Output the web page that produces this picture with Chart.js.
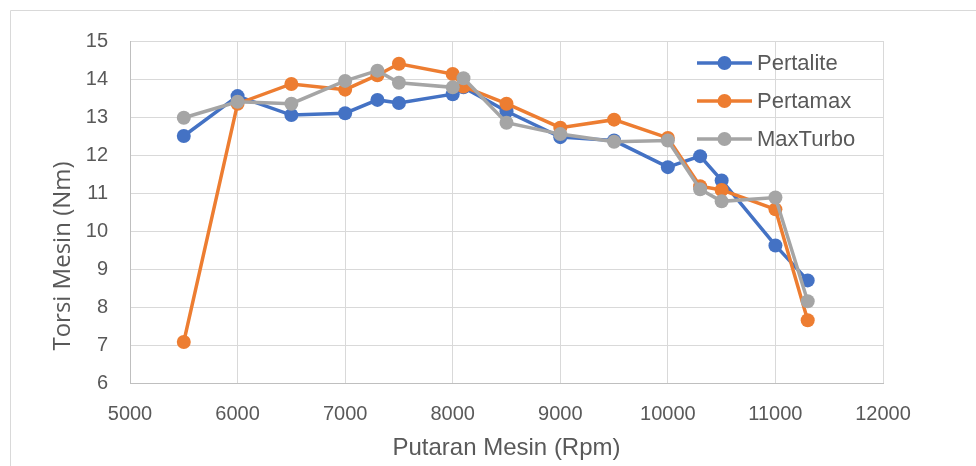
<!DOCTYPE html>
<html>
<head>
<meta charset="utf-8">
<script src="https://cdn.jsdelivr.net/npm/chart.js@4"></script>
<style>
  html, body { margin: 0; padding: 0; background: #fff; }
  #wrap { width: 976px; height: 466px; position: relative; }
</style>
</head>
<body>
<div id="wrap"><canvas id="torqueChart" width="976" height="466"></canvas></div>
<script>
const rpm = [5500, 6000, 6500, 7000, 7300, 7500, 8000, 8100, 8500, 9000, 9500, 10000, 10300, 10500, 11000, 11300];
const pertalite = [12.5, 13.55, 13.05, 13.1, 13.45, 13.37, 13.6, 13.78, 13.15, 12.47, 12.38, 11.68, 11.97, 11.33, 9.62, 8.7];
const pertamax = [7.08, 13.35, 13.87, 13.72, 14.1, 14.4, 14.13, 13.8, 13.35, 12.72, 12.93, 12.45, 11.18, 11.08, 10.57, 7.65];
const maxturbo = [12.98, 13.4, 13.35, 13.95, 14.22, 13.9, 13.78, 14.02, 12.85, 12.55, 12.35, 12.38, 11.1, 10.78, 10.88, 8.15];

const xTicks = [5000, 6000, 7000, 8000, 9000, 10000, 11000, 12000];
const yTicks = [6, 7, 8, 9, 10, 11, 12, 13, 14, 15];
const yTitle = 'Torsi Mesin (Nm)';

const FONT = "'Liberation Sans', Arial, sans-serif";
const TEXT = '#595959';

function pts(vals) {
  return rpm.map((x, i) => ({ x: x, y: vals[i] }));
}

function series(label, vals, color, order) {
  return {
    label: label,
    data: pts(vals),
    borderColor: color,
    backgroundColor: color,
    borderWidth: 3.5,
    pointRadius: 7,
    pointHoverRadius: 7,
    pointBorderWidth: 0,
    tension: 0,
    order: order
  };
}

// legend drawn inside the plot, like the original
const innerLegend = {
  id: 'innerLegend',
  afterDraw(chart) {
    const c = chart.ctx;
    const a = chart.chartArea;
    c.save();
    chart.data.datasets.forEach((ds, i) => {
      const y = a.top + 22 + i * 38;
      const x0 = a.right - 186, x1 = a.right - 131;
      c.strokeStyle = ds.borderColor;
      c.lineWidth = 3.5;
      c.beginPath();
      c.moveTo(x0, y);
      c.lineTo(x1, y);
      c.stroke();
      c.fillStyle = ds.borderColor;
      c.beginPath();
      c.arc((x0 + x1) / 2, y, 7, 0, Math.PI * 2);
      c.fill();
      c.fillStyle = TEXT;
      c.font = '22px ' + FONT;
      c.textBaseline = 'middle';
      c.textAlign = 'left';
      c.fillText(ds.label, x1 + 5, y + 1);
    });
    c.restore();
  }
};

// frame + y axis title (Excel centres it lower than the plot)
const frame = {
  id: 'frame',
  beforeDraw(chart) {
    const c = chart.ctx;
    c.save();
    c.strokeStyle = '#d9d9d9';
    c.lineWidth = 1;
    c.beginPath();
    c.moveTo(10.5, 470);
    c.lineTo(10.5, 10.5);
    c.lineTo(980, 10.5);
    c.stroke();
    c.translate(63, 256);
    c.rotate(-Math.PI / 2);
    c.fillStyle = TEXT;
    c.font = "24px 'Open Sans', sans-serif";
    c.textAlign = 'center';
    c.textBaseline = 'middle';
    c.fillText(yTitle, 0, 0);
    c.restore();
  }
};

new Chart(document.getElementById('torqueChart').getContext('2d'), {
  type: 'line',
  data: {
    datasets: [
      series('Pertalite', pertalite, '#4472C4', 3),
      series('Pertamax', pertamax, '#ED7D31', 2),
      series('MaxTurbo', maxturbo, '#A5A5A5', 1)
    ]
  },
  options: {
    responsive: false,
    animation: false,
    layout: { padding: { left: 10, top: 41, right: 93, bottom: 0 } },
    scales: {
      x: {
        type: 'linear',
        min: 5000,
        max: 12000,
        afterBuildTicks: s => { s.ticks = xTicks.map(v => ({ value: v })); },
        afterFit: s => { s.height = 83; },
        grid: { color: '#d9d9d9', lineWidth: 1, drawTicks: false },
        border: { color: '#bfbfbf', width: 1 },
        ticks: {
          color: TEXT,
          font: { family: FONT, size: 20 },
          padding: 19,
          maxRotation: 0,
          callback: v => String(v)
        },
        title: {
          display: true,
          text: 'Putaran Mesin (Rpm)',
          color: TEXT,
          font: { family: FONT, size: 24 },
          padding: { top: 0, bottom: 3 }
        }
      },
      y: {
        min: 6,
        max: 15,
        afterBuildTicks: s => { s.ticks = yTicks.map(v => ({ value: v })); },
        afterFit: s => { s.width = 120; },
        grid: { color: '#d9d9d9', lineWidth: 1, drawTicks: false },
        border: { color: '#bfbfbf', width: 1 },
        ticks: { color: TEXT, font: { family: FONT, size: 20 }, padding: 22 }
      }
    },
    plugins: {
      legend: { display: false },
      tooltip: { enabled: false }
    }
  },
  plugins: [frame, innerLegend]
});
</script>
</body>
</html>
